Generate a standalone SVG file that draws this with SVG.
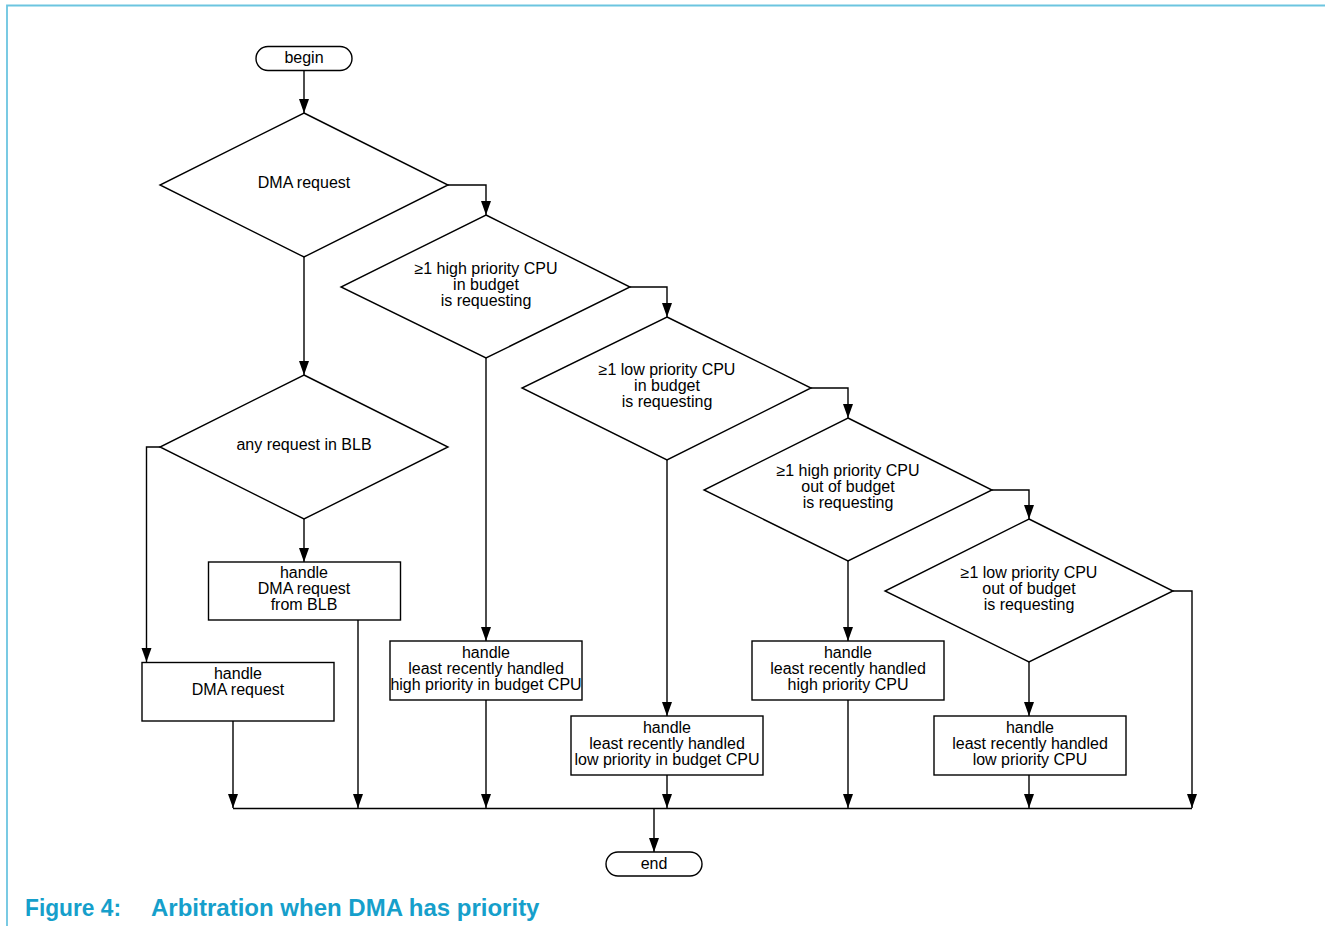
<svg xmlns="http://www.w3.org/2000/svg" width="1325" height="926" viewBox="0 0 1325 926">
<style>
.s{fill:#fff;stroke:#000;stroke-width:1.4}
.c{fill:none;stroke:#000;stroke-width:1.4}
text{font-family:"Liberation Sans",Arial,Helvetica,sans-serif;font-size:16px;fill:#000;text-anchor:middle}
.cap{font-size:24px;font-weight:bold;fill:#169fcb;text-anchor:start}
</style>
<defs>
<marker id="a" markerWidth="15" markerHeight="11" refX="14" refY="5.5" orient="auto" markerUnits="userSpaceOnUse" viewBox="0 0 15 11">
<path d="M0,0.5 L14,5.5 L0,10.5 Z" fill="#000"/>
</marker>
</defs>
<g id="frame">
<path d="M7,926 V5.5 H1325" fill="none" stroke="#6cc5e0" stroke-width="1.8"/>
</g>
<g id="connectors">
<path class="c" d="M304,71 V113" marker-end="url(#a)"/>
<path class="c" d="M448,185 H486 V215" marker-end="url(#a)"/>
<path class="c" d="M630,287 H667 V317" marker-end="url(#a)"/>
<path class="c" d="M811,388 H848 V418" marker-end="url(#a)"/>
<path class="c" d="M992,490 H1029 V519" marker-end="url(#a)"/>
<path class="c" d="M1173,591 H1192 V808" marker-end="url(#a)"/>
<path class="c" d="M304,257 V375" marker-end="url(#a)"/>
<path class="c" d="M160,447 H146.5 V662" marker-end="url(#a)"/>
<path class="c" d="M304,519 V562" marker-end="url(#a)"/>
<path class="c" d="M486,358 V641" marker-end="url(#a)"/>
<path class="c" d="M667,460 V716" marker-end="url(#a)"/>
<path class="c" d="M848,561 V641" marker-end="url(#a)"/>
<path class="c" d="M1029,662 V716" marker-end="url(#a)"/>
<path class="c" d="M233,721 V808" marker-end="url(#a)"/>
<path class="c" d="M358,620 V808" marker-end="url(#a)"/>
<path class="c" d="M486,700 V808" marker-end="url(#a)"/>
<path class="c" d="M667,775 V808" marker-end="url(#a)"/>
<path class="c" d="M848,700 V808" marker-end="url(#a)"/>
<path class="c" d="M1029,775 V808" marker-end="url(#a)"/>
<path class="c" d="M233,808.5 H1192"/>
<path class="c" d="M654,808.5 V852" marker-end="url(#a)"/>
</g>
<g id="begin">
<rect class="s" x="256" y="46.5" width="96" height="24" rx="12"/>
<text x="304" y="63">begin</text>
</g>
<g id="d_dma">
<polygon class="s" points="304,113 448,185 304,257 160,185"/>
<text x="304" y="188">DMA request</text>
</g>
<g id="d_hi_in">
<polygon class="s" points="486,215 630,287 486,358 341,287"/>
<text x="486" y="274">≥1 high priority CPU</text>
<text x="486" y="290">in budget</text>
<text x="486" y="306">is requesting</text>
</g>
<g id="d_lo_in">
<polygon class="s" points="667,317 811,388 667,460 522,388"/>
<text x="667" y="375">≥1 low priority CPU</text>
<text x="667" y="391">in budget</text>
<text x="667" y="407">is requesting</text>
</g>
<g id="d_hi_out">
<polygon class="s" points="848,418 992,490 848,561 704,490"/>
<text x="848" y="476">≥1 high priority CPU</text>
<text x="848" y="492">out of budget</text>
<text x="848" y="508">is requesting</text>
</g>
<g id="d_lo_out">
<polygon class="s" points="1029,519 1173,591 1029,662 885,591"/>
<text x="1029" y="578">≥1 low priority CPU</text>
<text x="1029" y="594">out of budget</text>
<text x="1029" y="610">is requesting</text>
</g>
<g id="d_blb">
<polygon class="s" points="304,375 448,447 304,519 160,447"/>
<text x="304" y="450">any request in BLB</text>
</g>
<g id="b_blb">
<rect class="s" x="208.5" y="562" width="192" height="58"/>
<text x="304" y="578">handle</text>
<text x="304" y="594">DMA request</text>
<text x="304" y="610">from BLB</text>
</g>
<g id="b_dma">
<rect class="s" x="142" y="662.5" width="192" height="58.5"/>
<text x="238" y="679">handle</text>
<text x="238" y="695">DMA request</text>
</g>
<g id="b_hi_in">
<rect class="s" x="390" y="641" width="192" height="59"/>
<text x="486" y="658">handle</text>
<text x="486" y="674">least recently handled</text>
<text x="486" y="690">high priority in budget CPU</text>
</g>
<g id="b_lo_in">
<rect class="s" x="571" y="716" width="192" height="59"/>
<text x="667" y="733">handle</text>
<text x="667" y="749">least recently handled</text>
<text x="667" y="765">low priority in budget CPU</text>
</g>
<g id="b_hi_out">
<rect class="s" x="752" y="641" width="192" height="59"/>
<text x="848" y="658">handle</text>
<text x="848" y="674">least recently handled</text>
<text x="848" y="690">high priority CPU</text>
</g>
<g id="b_lo_out">
<rect class="s" x="934" y="716" width="192" height="59"/>
<text x="1030" y="733">handle</text>
<text x="1030" y="749">least recently handled</text>
<text x="1030" y="765">low priority CPU</text>
</g>
<g id="end">
<rect class="s" x="606" y="852" width="96" height="24" rx="12"/>
<text x="654" y="869">end</text>
</g>
<g id="caption">
<text class="cap" x="25" y="916" textLength="96" lengthAdjust="spacingAndGlyphs">Figure 4:</text>
<text class="cap" x="151" y="916">Arbitration when DMA has priority</text>
</g>
</svg>
